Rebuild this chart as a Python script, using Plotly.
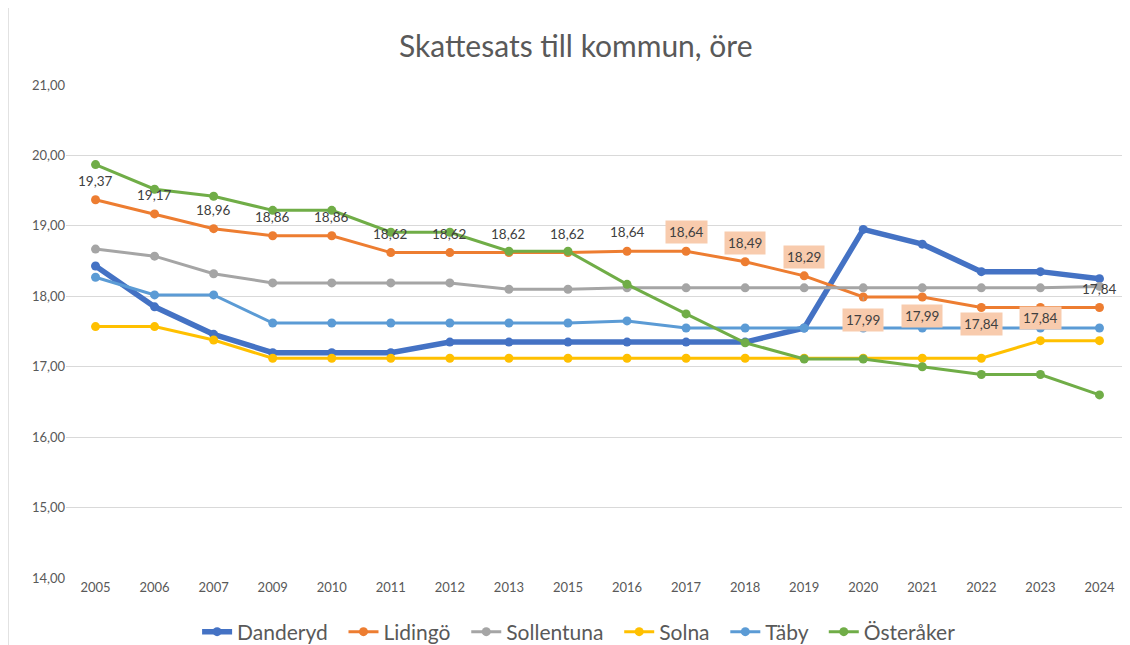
import plotly.graph_objects as go

years = ["2005", "2006", "2007", "2009", "2010", "2011", "2012", "2013", "2015",
         "2016", "2017", "2018", "2019", "2020", "2021", "2022", "2023", "2024"]

danderyd = [18.43, 17.85, 17.46, 17.20, 17.20, 17.20, 17.35, 17.35, 17.35,
            17.35, 17.35, 17.35, 17.55, 18.95, 18.74, 18.35, 18.35, 18.25]
lidingo = [19.37, 19.17, 18.96, 18.86, 18.86, 18.62, 18.62, 18.62, 18.62,
           18.64, 18.64, 18.49, 18.29, 17.99, 17.99, 17.84, 17.84, 17.84]
sollentuna = [18.67, 18.57, 18.32, 18.19, 18.19, 18.19, 18.19, 18.10, 18.10,
              18.12, 18.12, 18.12, 18.12, 18.12, 18.12, 18.12, 18.12, 18.14]
solna = [17.57, 17.57, 17.38, 17.12, 17.12, 17.12, 17.12, 17.12, 17.12,
         17.12, 17.12, 17.12, 17.12, 17.12, 17.12, 17.12, 17.37, 17.37]
taby = [18.27, 18.02, 18.02, 17.62, 17.62, 17.62, 17.62, 17.62, 17.62,
        17.65, 17.55, 17.55, 17.55, 17.55, 17.55, 17.55, 17.55, 17.55]
osteraker = [19.87, 19.52, 19.42, 19.22, 19.22, 18.91, 18.91, 18.64, 18.64,
             18.17, 17.75, 17.34, 17.11, 17.11, 17.00, 16.89, 16.89, 16.60]

series = [
    ("Danderyd", danderyd, "#4472C4", 5.5),
    ("Lidingö", lidingo, "#ED7D31", 3),
    ("Sollentuna", sollentuna, "#A5A5A5", 3),
    ("Solna", solna, "#FFC000", 3),
    ("Täby", taby, "#5B9BD5", 3),
    ("Österåker", osteraker, "#70AD47", 3),
]

FONT = "Lato"
TXT = "#595959"
PAD = "\u00a0" * 2

fig = go.Figure()
for k, (name, vals, color, w) in enumerate(series):
    label = name if k == len(series) - 1 else name + PAD
    fig.add_trace(go.Scatter(
        x=years, y=vals, name=label, mode="lines+markers",
        line=dict(color=color, width=w),
        marker=dict(color=color, size=9),
    ))

# Lidingö data labels
boxed = {"2017", "2018", "2019", "2020", "2021", "2022", "2023"}
below = {"2020": 23, "2021": 19, "2022": 16, "2023": 10}
arrows = {"2020", "2021"}
annotations = []
for i, (yr, v) in enumerate(zip(years, lidingo)):
    txt = f"{v:.2f}".replace(".", ",")
    a = dict(x=i, y=v, xref="x", yref="y", text=txt,
             font=dict(family=FONT, size=13.5, color="#404040"),
             showarrow=False)
    if yr in boxed:
        a.update(bgcolor="#F8CBAD", borderpad=3)
    if yr in below:
        if yr in arrows:
            a.update(showarrow=True, arrowhead=0, arrowwidth=1,
                     arrowcolor="#A5A5A5", ax=0, ay=below[yr], standoff=0,
                     startstandoff=8)
        else:
            a.update(yshift=-below[yr])
    else:
        a.update(yshift=19)
    annotations.append(a)

fig.update_layout(
    width=1122, height=637,
    margin=dict(l=58, r=1, t=77, b=67),
    paper_bgcolor="white", plot_bgcolor="white",
    separators=", ",
    title=dict(text="Skattesats till kommun, öre", x=0.506, xref="container",
               xanchor="center", y=0.939, yanchor="middle",
               font=dict(family=FONT, size=30, color=TXT)),
    font=dict(family=FONT, color=TXT),
    showlegend=True,
    legend=dict(orientation="h", xref="container", x=0.509, xanchor="center",
                yref="container", y=(637 - 624) / 637, yanchor="middle",
                font=dict(family=FONT, size=21, color=TXT),
                itemwidth=30, tracegroupgap=0),
    annotations=annotations,
    shapes=[dict(type="line", xref="paper", yref="paper", x0=-0.0546,
                 x1=-0.0546, y0=-0.2, y1=1.2,
                 line=dict(color="#BFBFBF", width=1))],
)
fig.update_xaxes(type="category", range=[-0.5, len(years) - 0.5],
                 showgrid=False, showline=False, ticks="",
                 tickfont=dict(family=FONT, size=13, color=TXT))
fig.update_yaxes(range=[14, 21], dtick=1, tickformat=".2f",
                 showgrid=True, gridcolor="#D9D9D9", gridwidth=1,
                 zeroline=False, showline=False, ticks="",
                 tickfont=dict(family=FONT, size=13, color=TXT))

fig.write_html("out.html")
